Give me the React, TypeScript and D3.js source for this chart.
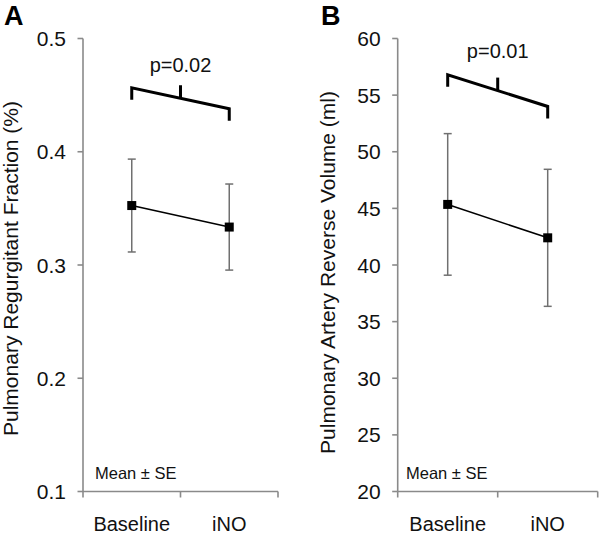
import React from "react";
import * as d3 from "d3";

const categories = ["Baseline", "iNO"];

const fractionMean = [0.3525, 0.3335];
const fractionSE = [0.041, 0.038];
const fractionTicks = [0.1, 0.2, 0.3, 0.4, 0.5];
const fractionBracket = [0.4565, 0.438];
const fractionP = "p=0.02";

const volumeMean = [45.35, 42.4];
const volumeSE = [6.25, 6.05];
const volumeTicks = [20, 25, 30, 35, 40, 45, 50, 55, 60];
const volumeBracket = [56.8, 54.0];
const volumeP = "p=0.01";

const FONT = "'Liberation Sans', Arial, Helvetica, sans-serif";
const AXIS = "#8a8a8a";
const ERR = "#707070";

type PanelProps = {
  letter: string;
  letterX: number;
  title: string;
  titleX: number;
  titleY: number;
  x0: number;
  x1: number;
  domain: [number, number];
  ticks: number[];
  fmt: (v: number) => string;
  means: number[];
  ses: number[];
  bracket: number[];
  pText: string;
  pY: number;
  noteX: number;
};

function Panel(p: PanelProps) {
  const yTop = 38.5;
  const yBot = 491.5;
  const y = d3.scaleLinear().domain(p.domain).range([yBot, yTop]);
  const x = d3.scaleBand<string>().domain(categories).range([p.x0, p.x1]);
  const cx = (c: string) => (x(c) as number) + x.bandwidth() / 2;
  const line = d3
    .line<number>()
    .x((_, i) => cx(categories[i]))
    .y((d) => y(d));
  const bx0 = cx(categories[0]);
  const bx1 = cx(categories[1]);
  const by0 = y(p.bracket[0]);
  const by1 = y(p.bracket[1]);
  const midX = (bx0 + bx1) / 2;
  const midY = (by0 + by1) / 2;
  const leg = 12;
  const bracketPath = `M${bx0},${by0 + leg}L${bx0},${by0}L${bx1},${by1}L${bx1},${by1 + leg}`;
  const boundaries = [p.x0, ...categories.map((c) => (x(c) as number) + x.bandwidth())];
  const ms = 9;
  const cap = 4;
  return (
    <g>
      <text x={p.letterX} y={24.5} fontFamily={FONT} fontWeight="bold" fontSize={27} fill="#000">
        {p.letter}
      </text>
      <text
        transform={`translate(${p.titleX},${p.titleY}) rotate(-90)`}
        textAnchor="middle"
        fontFamily={FONT}
        fontSize={21}
        fill="#111"
      >
        {p.title}
      </text>
      {/* y axis */}
      <line x1={p.x0} x2={p.x0} y1={yTop} y2={yBot} stroke={AXIS} strokeWidth={1.6} />
      {p.ticks.map((t) => (
        <g key={t}>
          <line x1={p.x0 - 5.5} x2={p.x0} y1={y(t)} y2={y(t)} stroke={AXIS} strokeWidth={1.6} />
          <text
            x={p.x0 - 17}
            y={y(t)}
            dy="0.36em"
            textAnchor="end"
            fontFamily={FONT}
            fontSize={21}
            fill="#111"
          >
            {p.fmt(t)}
          </text>
        </g>
      ))}
      {/* x axis */}
      <line x1={p.x0} x2={p.x1} y1={yBot} y2={yBot} stroke={AXIS} strokeWidth={1.6} />
      {boundaries.map((b, i) => (
        <line key={i} x1={b} x2={b} y1={yBot} y2={yBot + 6} stroke={AXIS} strokeWidth={1.6} />
      ))}
      {categories.map((c) => (
        <text
          key={c}
          x={cx(c)}
          y={530.5}
          textAnchor="middle"
          fontFamily={FONT}
          fontSize={20}
          fill="#111"
        >
          {c}
        </text>
      ))}
      <text x={p.noteX} y={479.3} fontFamily={FONT} fontSize={16.5} fill="#111">
        Mean ± SE
      </text>
      {/* error bars */}
      {categories.map((c, i) => {
        const hi = y(p.means[i] + p.ses[i]);
        const lo = y(p.means[i] - p.ses[i]);
        const xc = cx(c);
        return (
          <g key={c} stroke={ERR} strokeWidth={1.5}>
            <line x1={xc} x2={xc} y1={hi} y2={lo} />
            <line x1={xc - cap} x2={xc + cap} y1={hi} y2={hi} />
            <line x1={xc - cap} x2={xc + cap} y1={lo} y2={lo} />
          </g>
        );
      })}
      <path d={line(p.means) || ""} fill="none" stroke="#000" strokeWidth={1.6} />
      {categories.map((c, i) => (
        <rect
          key={c}
          x={cx(c) - ms / 2}
          y={y(p.means[i]) - ms / 2}
          width={ms}
          height={ms}
          fill="#000"
        />
      ))}
      {/* significance bracket */}
      <path d={bracketPath} fill="none" stroke="#000" strokeWidth={3} strokeLinejoin="miter" />
      <line x1={midX} x2={midX} y1={midY} y2={midY - 13} stroke="#000" strokeWidth={3} />
      <text x={midX} y={p.pY} textAnchor="middle" fontFamily={FONT} fontSize={20} fill="#111">
        {p.pText}
      </text>
    </g>
  );
}

export default function App() {
  return (
    <svg
      width={600}
      height={535}
      viewBox="0 0 600 535"
      style={{ position: "absolute", left: 0, top: 0, background: "#fff" }}
    >
      <rect width={600} height={535} fill="#fff" />
      <Panel
        letter="A"
        letterX={4}
        title="Pulmonary Regurgitant Fraction (%)"
        titleX={18}
        titleY={268.5}
        x0={83}
        x1={278}
        domain={[0.1, 0.5]}
        ticks={fractionTicks}
        fmt={(v) => d3.format(".1f")(v)}
        means={fractionMean}
        ses={fractionSE}
        bracket={fractionBracket}
        pText={fractionP}
        pY={72}
        noteX={95}
      />
      <Panel
        letter="B"
        letterX={321}
        title="Pulmonary Artery Reverse Volume (ml)"
        titleX={335}
        titleY={272.5}
        x0={397.7}
        x1={597.7}
        domain={[20, 60]}
        ticks={volumeTicks}
        fmt={(v) => String(v)}
        means={volumeMean}
        ses={volumeSE}
        bracket={volumeBracket}
        pText={volumeP}
        pY={58}
        noteX={406}
      />
    </svg>
  );
}
